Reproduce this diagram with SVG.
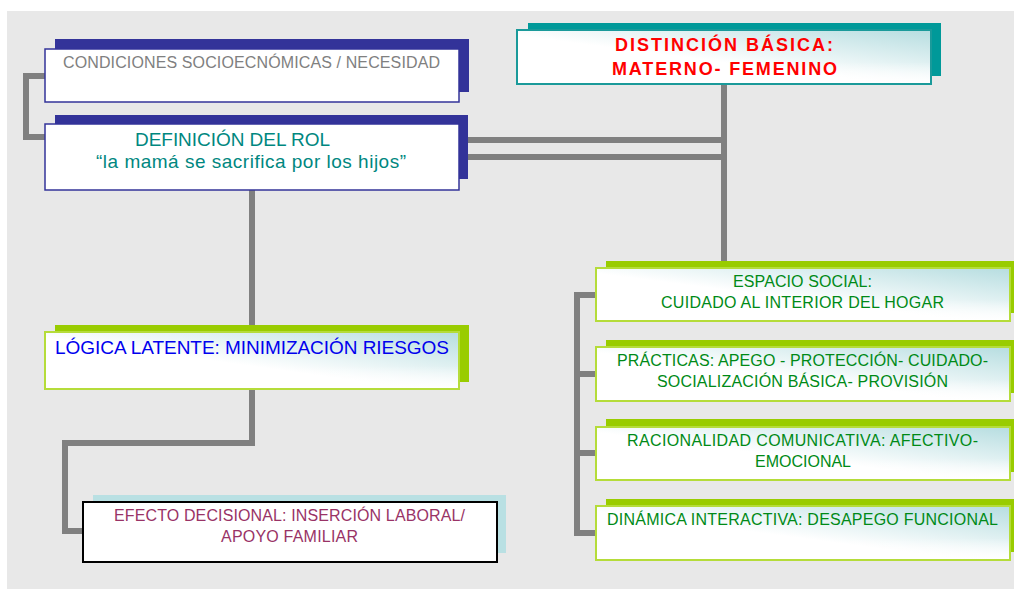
<svg xmlns="http://www.w3.org/2000/svg" width="1014" height="590" viewBox="0 0 1014 590">
<defs>
<linearGradient id="gl" x1="0" y1="1" x2="1" y2="0">
<stop offset="0" stop-color="#ffffff"/>
<stop offset="0.45" stop-color="#ffffff"/>
<stop offset="1" stop-color="#b6dde0"/>
</linearGradient>
<linearGradient id="gv" x1="0" y1="0" x2="0" y2="1">
<stop offset="0" stop-color="#ffffff" stop-opacity="0"/>
<stop offset="0.6" stop-color="#ffffff" stop-opacity="0"/>
<stop offset="1" stop-color="#ffffff" stop-opacity="0.9"/>
</linearGradient>
<style>
text{font-family:"Liberation Sans",Arial,sans-serif;font-size:16px}
.c{fill:none;stroke:#808080;stroke-width:6;stroke-linejoin:miter}
.shB{fill:#333399}
.frB{fill:#ffffff;stroke:#333399;stroke-width:1.5}
.shG{fill:#99cc00}
.frG{fill:url(#gl);stroke:#b5dc3a;stroke-width:2}
.ov{fill:url(#gv)}
.shT{fill:#009999}
.frT{fill:url(#gl);stroke:#1a9a9a;stroke-width:2}
.shL{fill:#b9e0e3}
.frK{fill:#ffffff;stroke:#000000;stroke-width:2}
.g{fill:#008a17}
</style>
</defs>
<rect x="7" y="11" width="1007" height="578" fill="#e8e8e8"/>

<g id="connectors">
<polyline class="c" points="45,76 26,76 26,137 45,137"/>
<line class="c" x1="459" y1="140" x2="724" y2="140"/>
<line class="c" x1="459" y1="157" x2="724" y2="157"/>
<line class="c" x1="724" y1="84" x2="724" y2="268"/>
<line class="c" x1="252" y1="190" x2="252" y2="325"/>
<polyline class="c" points="252,389 252,443 65,443 65,531 83,531"/>
<polyline class="c" points="596,295 577,295 577,533 596,533"/>
<line class="c" x1="577" y1="374" x2="596" y2="374"/>
<line class="c" x1="577" y1="453" x2="596" y2="453"/>
</g>

<g id="n-condiciones">
<rect class="shB" x="55" y="39" width="414" height="53"/>
<rect class="frB" x="45" y="49" width="414" height="53"/>
<text x="63" y="68" fill="#808080" textLength="377">CONDICIONES SOCIOECNÓMICAS / NECESIDAD</text>
</g>

<g id="n-definicion">
<rect class="shB" x="55" y="115" width="413" height="64"/>
<rect class="frB" x="45" y="124" width="414" height="66"/>
<text x="135" y="146" fill="#00877f" font-size="19" style="font-size:19px" textLength="195">DEFINICIÓN DEL ROL</text>
<text x="96" y="168" fill="#00877f" style="font-size:19px" textLength="310">“la mamá se sacrifica por los hijos”</text>
</g>

<g id="n-distincion">
<rect class="shT" x="528" y="23" width="413" height="53"/>
<rect class="frT" x="517" y="30" width="414" height="54"/>
<rect class="ov" x="518" y="31" width="412" height="52"/>
<text x="615" y="51" fill="#ff0000" font-weight="bold" style="font-size:18px" textLength="218">DISTINCIÓN BÁSICA:</text>
<text x="612" y="75" fill="#ff0000" font-weight="bold" style="font-size:18px" textLength="225">MATERNO- FEMENINO</text>
</g>

<g id="n-logica">
<rect class="shG" x="55" y="325" width="414" height="57"/>
<rect class="frG" x="45" y="332" width="414" height="57"/>
<rect class="ov" x="46" y="333" width="412" height="55"/>
<text x="55" y="354" fill="#0000ee" style="font-size:19px" textLength="394">LÓGICA LATENTE: MINIMIZACIÓN RIESGOS</text>
</g>

<g id="n-efecto">
<rect class="shL" x="93" y="495" width="413" height="58"/>
<rect class="frK" x="83" y="502" width="414" height="60"/>
<text x="114" y="521" fill="#993366" textLength="351">EFECTO DECISIONAL: INSERCIÓN LABORAL/</text>
<text x="221" y="542" fill="#993366" textLength="137">APOYO FAMILIAR</text>
</g>

<g id="n-espacio">
<rect class="shG" x="606" y="261" width="414" height="52"/>
<rect class="frG" x="596" y="268" width="414" height="53"/>
<rect class="ov" x="597" y="269" width="412" height="51"/>
<text x="733" y="287" class="g" textLength="139">ESPACIO SOCIAL:</text>
<text x="661" y="308" class="g" textLength="283">CUIDADO AL INTERIOR DEL HOGAR</text>
</g>

<g id="n-practicas">
<rect class="shG" x="606" y="340" width="414" height="53"/>
<rect class="frG" x="596" y="347" width="414" height="54"/>
<rect class="ov" x="597" y="348" width="412" height="52"/>
<text x="617" y="366" class="g" textLength="371">PRÁCTICAS: APEGO - PROTECCIÓN- CUIDADO-</text>
<text x="657" y="387" class="g" textLength="291">SOCIALIZACIÓN BÁSICA- PROVISIÓN</text>
</g>

<g id="n-racionalidad">
<rect class="shG" x="606" y="419" width="414" height="53"/>
<rect class="frG" x="596" y="427" width="414" height="53"/>
<rect class="ov" x="597" y="428" width="412" height="51"/>
<text x="627" y="446" class="g" textLength="351">RACIONALIDAD COMUNICATIVA: AFECTIVO-</text>
<text x="755" y="467" class="g" textLength="96">EMOCIONAL</text>
</g>

<g id="n-dinamica">
<rect class="shG" x="606" y="499" width="414" height="53"/>
<rect class="frG" x="596" y="506" width="414" height="54"/>
<rect class="ov" x="597" y="507" width="412" height="52"/>
<text x="607" y="525" class="g" textLength="391">DINÁMICA INTERACTIVA: DESAPEGO FUNCIONAL</text>
</g>
</svg>
